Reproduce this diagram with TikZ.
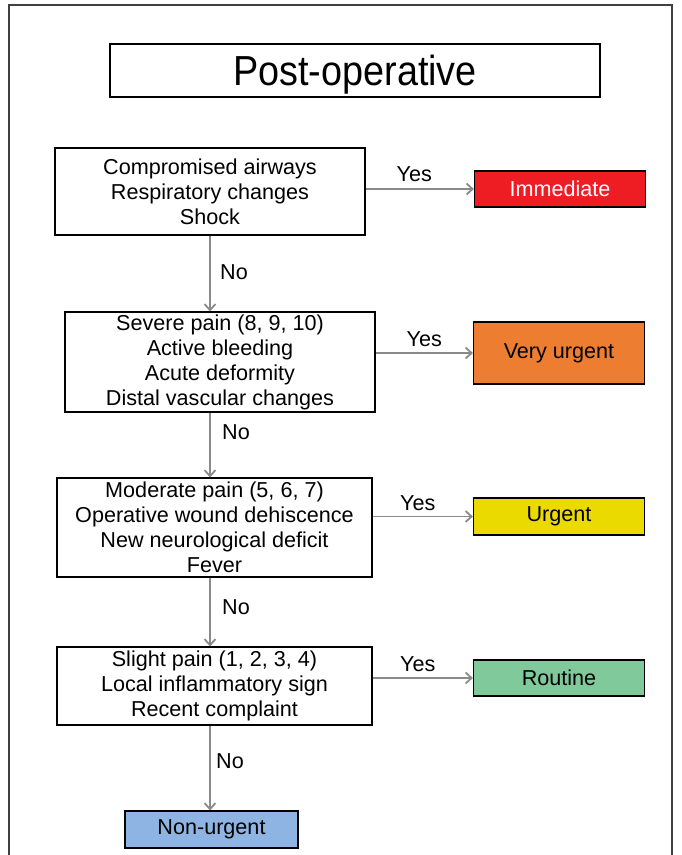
\documentclass[tikz,border=0pt]{standalone}
\usepackage{fontspec}
\setmainfont{Liberation Sans}
\usepackage{tikz}
\usetikzlibrary{arrows.meta,positioning,calc}

\definecolor{immred}{HTML}{EE1D24}
\definecolor{vuorange}{HTML}{ED7D31}
\definecolor{urgyellow}{HTML}{EADA00}
\definecolor{routgreen}{HTML}{80C99B}
\definecolor{nonblue}{HTML}{8EB4E3}
\definecolor{arrgray}{HTML}{8A8A8A}

\begin{document}
\begin{tikzpicture}[x=1pt, y=-1pt,
  every node/.style={font=\fontsize{21.6}{25}\selectfont},
  crit/.style={draw=black, line width=1.2pt, fill=white, align=center, inner sep=0pt},
  level/.style={draw=black, line width=1.2pt, minimum width=171pt, inner sep=0pt},
  arr/.style={draw=arrgray, line width=1.8pt, -{Straight Barb[length=6pt,width=11pt]}}]
  \useasboundingbox (0,0) rectangle (681,855);

  % outer frame
  \draw[line width=1.2pt, black!75] (9,855) -- (9,5) -- (672,5) -- (672,855);

  % title
  \node[draw=black, line width=1.2pt, minimum width=490pt, minimum height=53pt, text depth=0pt]
    (title) at (355,70.5) {\scalebox{0.9}[1]{\fontsize{42}{44}\selectfont Post-operative}};

  \coordinate (spine) at (210,0);

  % criteria boxes
  \node[crit, minimum width=310pt, minimum height=87pt] (c1) at (210,191.5)
    {Compromised airways\\Respiratory changes\\Shock};
  \node[crit, minimum width=310pt, minimum height=100pt] (c2) at (220,362)
    {Severe pain (8, 9, 10)\\Active bleeding\\Acute deformity\\Distal vascular changes};
  \node[crit, minimum width=315pt, minimum height=99pt] (c3) at (214.5,527.5)
    {Moderate pain (5, 6, 7)\\Operative wound dehiscence\\New neurological deficit\\Fever};
  \node[crit, minimum width=315pt, minimum height=78pt] (c4) at (214.5,686)
    {Slight pain (1, 2, 3, 4)\\Local inflammatory sign\\Recent complaint};

  % triage levels
  \node[level, fill=immred, text=white, minimum height=36pt] (imm) at (560,189) {Immediate};
  \node[level, fill=vuorange, minimum height=62pt] (vurg) at (559,353) {Very urgent};
  \node[level, fill=urgyellow, minimum height=37pt] (urg) at (559,516.5) {Urgent};
  \node[level, fill=routgreen, minimum height=36pt] (rout) at (559,678) {Routine};
  \node[level, fill=nonblue, minimum width=173pt, minimum height=37pt] (nonurg) at (211.5,829.5) {Non-urgent};

  % yes arrows
  \draw[arr] (c1.east |- imm) -- node[above=3pt, pos=0.45, text=black] {Yes} (imm.west);
  \draw[arr] (c2.east |- vurg) -- node[above=2pt, pos=0.5, text=black] {Yes} (vurg.west);
  \draw[arr] (c3.east |- urg) -- node[above=2pt, pos=0.45, text=black] {Yes} (urg.west);
  \draw[arr] (c4.east |- rout) -- node[above=2pt, pos=0.45, text=black] {Yes} (rout.west);

  % no arrows
  \draw[arr] (c1.south -| spine) -- node[right=6pt, pos=0.48, text=black] {No} (c2.north -| spine);
  \draw[arr] (c2.south -| spine) -- node[right=8pt, pos=0.3, text=black] {No} (c3.north -| spine);
  \draw[arr] (c3.south -| spine) -- node[right=8pt, pos=0.43, text=black] {No} (c4.north -| spine);
  \draw[arr] (c4.south -| spine) -- node[right=2pt, pos=0.42, text=black] {No} (nonurg.north -| spine);

\end{tikzpicture}
\end{document}
